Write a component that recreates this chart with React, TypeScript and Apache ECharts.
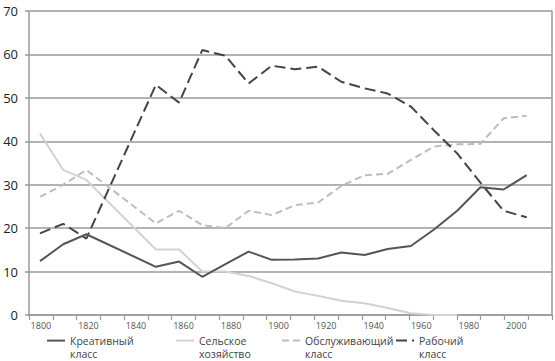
import React, { useEffect, useRef } from 'react';
import * as echarts from 'echarts';

// Axis tick labels (decade categories; every second one is shown)
const decades = ['1800', '1810', '1820', '1830', '1840', '1850', '1860', '1870', '1880', '1890', '1900', '1910', '1920', '1930', '1940', '1950', '1960', '1970', '1980', '1990', '2000', '2010'];

// Data years
const years = [1800, 1810, 1820, 1850, 1860, 1870, 1880, 1890, 1900, 1910, 1920, 1930, 1940, 1950, 1960, 1970, 1980, 1990, 2000, 2010];

// Series values, %
const creative = [12.4, 16.3, 18.6, 11.1, 12.3, 8.8, 11.7, 14.6, 12.7, 12.8, 13.0, 14.4, 13.8, 15.2, 15.9, 19.7, 24.0, 29.4, 28.9, 32.2];
const agriculture = [41.8, 33.4, 31.1, 15.1, 15.1, 10.0, 10.0, 9.0, 7.3, 5.4, 4.4, 3.3, 2.7, 1.6, 0.4, 0, 0, null, null, null];
const service = [27.2, 30.0, 33.4, 21.1, 24.0, 20.7, 20.0, 24.0, 23.0, 25.3, 25.9, 29.7, 32.2, 32.5, 35.7, 38.8, 39.3, 39.4, 45.3, 45.9];
const working = [18.8, 21.0, 17.6, 53.0, 48.9, 61.0, 59.7, 53.3, 57.4, 56.6, 57.2, 53.7, 52.2, 51.0, 48.0, 42.5, 37.2, 30.5, 24.0, 22.5];

const names = ['Креативный\nкласс', 'Сельское\nхозяйство', 'Обслуживающий\nкласс', 'Рабочий\nкласс'];

const FONT = '"Open Sans", sans-serif';
const GRID_COLOR = '#9a9a9a';

const pairs = (vals: (number | null)[]) => years.map((y, i) => [y, vals[i]]);

const legendLefts = [46, 175, 281, 395];

export default function App() {
  const ref = useRef<HTMLDivElement>(null);
  useEffect(() => {
    const chart = echarts.init(ref.current!, null, { renderer: 'svg' });
    const option: any = {
      animation: false,
      backgroundColor: '#ffffff',
      textStyle: { fontFamily: FONT },
      grid: { left: 29, right: 3, top: 11, bottom: 46, containLabel: false },
      legend: names.map((n, i) => ({
        data: [n],
        left: legendLefts[i],
        top: 335,
        padding: 0,
        itemWidth: 18,
        itemHeight: 14,
        selectedMode: false,
        itemStyle: { opacity: 0 },
        formatter: (name: string) => {
          const parts = name.split('\n');
          return `{a|${parts[0]}}\n{b|${parts[1]}}`;
        },
        textStyle: {
          fontFamily: FONT,
          fontSize: 10.5,
          color: '#444',
          rich: {
            a: { fontFamily: FONT, fontSize: 10.5, color: '#444', height: 13, padding: [14, 0, 0, 0] },
            b: { fontFamily: FONT, fontSize: 10.5, color: '#444', height: 14, lineHeight: 14 },
          },
        },
      })),
      xAxis: [
        {
          type: 'category',
          data: decades,
          boundaryGap: true,
          axisLine: { lineStyle: { color: GRID_COLOR, width: 1.5 } },
          axisTick: { show: true, interval: 0, length: 5, lineStyle: { color: GRID_COLOR, width: 1.2 } },
          axisLabel: { interval: 1, fontSize: 9, color: '#555', margin: 6, fontFamily: FONT },
          splitLine: { show: false },
        },
        {
          type: 'value',
          min: 1795.25,
          max: 2020.9,
          show: false,
        },
      ],
      yAxis: [
        {
          type: 'value',
          min: 0,
          max: 70,
          interval: 10,
          axisLine: { show: true, lineStyle: { color: GRID_COLOR, width: 1.5 } },
          axisTick: { show: true, length: 4, lineStyle: { color: GRID_COLOR, width: 1.5 } },
          axisLabel: { fontSize: 13, color: '#222', margin: 11, fontFamily: FONT },
          splitLine: { show: true, lineStyle: { color: GRID_COLOR, width: 1.5 } },
        },
        {
          type: 'value',
          position: 'right',
          min: 0,
          max: 70,
          interval: 10,
          axisLine: { show: true, lineStyle: { color: GRID_COLOR, width: 1.5 } },
          axisTick: { show: false },
          axisLabel: { show: false },
          splitLine: { show: false },
        },
      ],
      series: [
        {
          name: names[1],
          type: 'line',
          xAxisIndex: 1,
          yAxisIndex: 0,
          symbol: 'none',
          data: pairs(agriculture),
          lineStyle: { color: '#d2d2d2', width: 2 },
          itemStyle: { color: '#d2d2d2' },
        },
        {
          name: names[2],
          type: 'line',
          xAxisIndex: 1,
          yAxisIndex: 0,
          symbol: 'none',
          data: pairs(service),
          lineStyle: { color: '#bdbdbd', width: 2, type: [7, 4] },
          itemStyle: { color: '#bdbdbd' },
        },
        {
          name: names[3],
          type: 'line',
          xAxisIndex: 1,
          yAxisIndex: 0,
          symbol: 'none',
          data: pairs(working),
          lineStyle: { color: '#444444', width: 2, type: [11, 5] },
          itemStyle: { color: '#444444' },
        },
        {
          name: names[0],
          type: 'line',
          xAxisIndex: 1,
          yAxisIndex: 0,
          symbol: 'none',
          data: pairs(creative),
          lineStyle: { color: '#555555', width: 2 },
          itemStyle: { color: '#555555' },
        },
      ],
    };
    chart.setOption(option);
    return () => chart.dispose();
  }, []);
  return <div ref={ref} style={{ position: 'absolute', left: 0, top: 0, width: 555, height: 361 }} />;
}
